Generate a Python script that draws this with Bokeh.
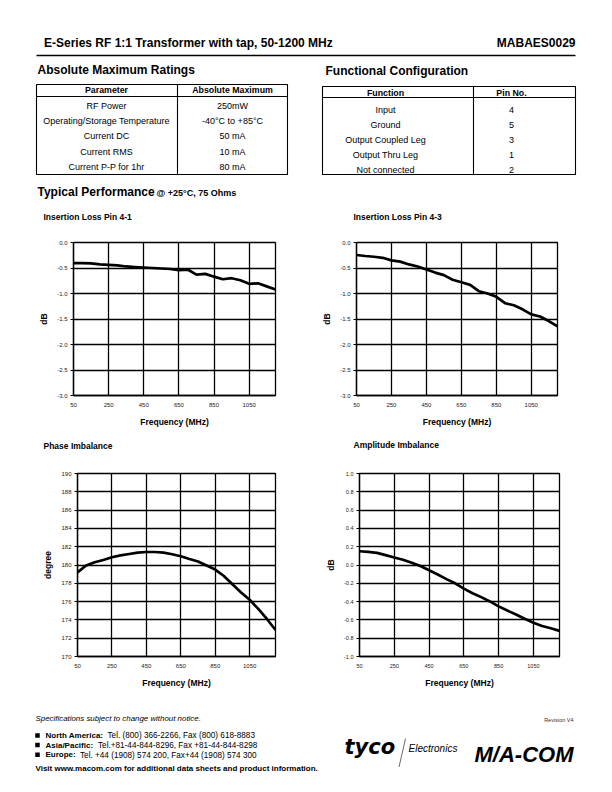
from bokeh.plotting import figure
from bokeh.layouts import column, row
from bokeh.models import Range1d, FixedTicker, NumeralTickFormatter
from bokeh.core.properties import value
from bokeh.embed import file_html
from bokeh.resources import INLINE

FONT = "Liberation Sans"

# ---------------- data ----------------
freq = [50, 100, 150, 200, 250, 300, 350, 400, 450, 500, 550, 600,
        650, 700, 750, 800, 850, 900, 950, 1000, 1050, 1100, 1150, 1200]
il_41 = [-0.405, -0.405, -0.41, -0.43, -0.44, -0.45, -0.47, -0.48, -0.49, -0.50, -0.51, -0.52,
         -0.54, -0.53, -0.63, -0.615, -0.67, -0.72, -0.70, -0.74, -0.81, -0.80, -0.86, -0.92]
il_43 = [-0.245, -0.265, -0.28, -0.30, -0.35, -0.375, -0.43, -0.47, -0.53, -0.59, -0.64, -0.73,
         -0.78, -0.83, -0.955, -1.0, -1.065, -1.19, -1.23, -1.31, -1.41, -1.45, -1.54, -1.645]
phase = [179.2, 179.95, 180.3, 180.55, 180.85, 181.05, 181.2, 181.35, 181.42, 181.42, 181.35, 181.17,
         180.95, 180.65, 180.38, 179.95, 179.5, 178.8, 177.9, 177.0, 176.2, 175.2, 174.1, 172.9]
amp = [0.15, 0.143, 0.133, 0.108, 0.082, 0.057, 0.025, -0.01, -0.057, -0.104, -0.154, -0.20,
       -0.258, -0.308, -0.351, -0.398, -0.452, -0.498, -0.541, -0.588, -0.631, -0.667, -0.692, -0.72]

x_ticks = [50, 250, 450, 650, 850, 1050]
il_ticks = [-3.0, -2.5, -2.0, -1.5, -1.0, -0.5, 0.0]
phase_ticks = [170, 172, 174, 176, 178, 180, 182, 184, 186, 188, 190]
amp_ticks = [-1.0, -0.8, -0.6, -0.4, -0.2, 0.0, 0.2, 0.4, 0.6, 0.8, 1.0]

chart_titles = ["Insertion Loss Pin 4-1", "Insertion Loss Pin 4-3", "Phase Imbalance", "Amplitude Imbalance"]

amr_params = ["RF Power", "Operating/Storage Temperature", "Current DC", "Current RMS", "Current P-P for 1hr"]
amr_values = ["250mW", "-40\u00b0C to +85\u00b0C", "50 mA", "10 mA", "80 mA"]
fc_functions = ["Input", "Ground", "Output Coupled Leg", "Output Thru Leg", "Not connected"]
fc_pins = ["4", "5", "3", "1", "2"]


def page_fig(y0, y1):
    p = figure(width=612, height=y1 - y0, x_range=Range1d(0, 612), y_range=Range1d(y1, y0),
               output_backend="svg", toolbar_location=None, min_border=0, title=None,
               x_axis_location=None, y_axis_location=None)
    p.grid.visible = False
    p.outline_line_color = None
    return p


def txt(p, x, y, s, size, style="normal", align="left", font=FONT, color="black"):
    # y is the vertical centre of the capital letters, in page pixels
    p.text(x=[x], y=[y], text=[s], text_font=value(font), text_font_size=size,
           text_font_style=style, text_align=align, text_baseline="middle", text_color=color)


# ---------------- header (page y 0..228) ----------------
hdr = page_fig(0, 228)
txt(hdr, 43.5, 42, "E-Series RF 1:1 Transformer with tap, 50-1200 MHz", "12px", "bold")
txt(hdr, 575, 42, "MABAES0029", "12px", "bold", "right")
hdr.segment(x0=[36], y0=[55], x1=[575], y1=[55], line_color="black", line_width=1.3)
txt(hdr, 37, 69.5, "Absolute Maximum Ratings", "12px", "bold")
txt(hdr, 325, 70, "Functional Configuration", "12px", "bold")

# table 1
hdr.quad(left=[36], right=[287], top=[84], bottom=[174], fill_color=None, line_color="black", line_width=1.1)
hdr.segment(x0=[36, 177], y0=[96, 84], x1=[287, 177], y1=[96, 174], line_color="black", line_width=1.1)
txt(hdr, 106, 89.7, "Parameter", "8.8px", "bold", "center")
txt(hdr, 232, 89.7, "Absolute Maximum", "8.8px", "bold", "center")
for i, (a, b) in enumerate(zip(amr_params, amr_values)):
    yc = 105 + i * 15.4
    txt(hdr, 106, yc, a, "9px", "normal", "center")
    txt(hdr, 232, yc, b, "9px", "normal", "center")

# table 2
hdr.quad(left=[322], right=[575], top=[86], bottom=[174], fill_color=None, line_color="black", line_width=1.1)
hdr.segment(x0=[322, 473], y0=[97, 86], x1=[575, 473], y1=[97, 174], line_color="black", line_width=1.1)
txt(hdr, 385, 92, "Function", "8.8px", "bold", "center")
txt(hdr, 511, 92, "Pin No.", "8.8px", "bold", "center")
for i, (a, b) in enumerate(zip(fc_functions, fc_pins)):
    yc = 109.2 + i * 15.1
    txt(hdr, 385, yc, a, "9px", "normal", "center")
    txt(hdr, 511, yc, b, "9px", "normal", "center")

txt(hdr, 37, 191.7, "Typical Performance", "12px", "bold")
txt(hdr, 156, 192.8, "@ +25\u00b0C, 75 Ohms", "9px", "bold")

# titles of the first chart row
txt(hdr, 43, 216.3, chart_titles[0], "8.5px", "bold")
txt(hdr, 353, 216.5, chart_titles[1], "8.5px", "bold")

# strip with the titles of the second chart row (page y 432..458)
mid = page_fig(432, 458)
txt(mid, 43, 445, chart_titles[2], "8.5px", "bold")
txt(mid, 353, 444.5, chart_titles[3], "8.5px", "bold")


# ---------------- charts ----------------
def chart(ys, yticks, fmt, ylabel, height, left, fw, top, fh, tick_size="6px"):
    p = figure(width=306, height=height, x_range=Range1d(50, 1200),
               y_range=Range1d(yticks[0], yticks[-1]), title=None,
               output_backend="svg", toolbar_location=None,
               min_border_left=left, min_border_right=306 - left - fw,
               min_border_top=top, min_border_bottom=height - top - fh)

    p.line(freq, ys, line_color="black", line_width=2.7)

    p.xaxis.ticker = FixedTicker(ticks=x_ticks)
    p.yaxis.ticker = FixedTicker(ticks=yticks)
    p.xgrid.ticker = FixedTicker(ticks=x_ticks)
    p.ygrid.ticker = FixedTicker(ticks=yticks)
    p.yaxis.formatter = NumeralTickFormatter(format=fmt)
    p.grid.grid_line_color = "black"
    p.grid.grid_line_width = 1.3
    p.grid.grid_line_alpha = 1.0
    p.outline_line_color = "black"
    p.outline_line_width = 1.3
    p.outline_line_alpha = 1.0

    for ax in (p.xaxis, p.yaxis):
        ax.axis_line_color = "black"
        ax.axis_line_width = 1.3
        ax.major_label_text_font = FONT
        ax.major_label_text_font_size = tick_size
        ax.major_label_text_color = "#222222"
        ax.axis_label_text_font = FONT
        ax.axis_label_text_font_size = "8.5px"
        ax.axis_label_text_font_style = "bold"
        ax.axis_label_text_color = "black"
        ax.minor_tick_line_color = None
        ax.major_tick_in = 0
    p.xaxis.major_tick_out = 0
    p.xaxis.major_label_standoff = 7
    p.xaxis.axis_label = "Frequency (MHz)"
    p.xaxis.axis_label_standoff = 7
    p.yaxis.major_tick_out = 3
    p.yaxis.major_tick_line_color = "black"
    p.yaxis.major_label_standoff = 3
    p.yaxis.axis_label = ylabel
    p.yaxis.axis_label_standoff = 5
    return p


# row 1: page y 228..432 ; row 2: page y 458..690
c1 = chart(il_41, il_ticks, "0.0", "dB", 204, 73, 202, 14, 153)
c2 = chart(il_43, il_ticks, "0.0", "dB", 204, 50, 201, 14, 154)
c3 = chart(phase, phase_ticks, "0", "degree", 232, 77, 198, 15, 185)
c4 = chart(amp, amp_ticks, "0.0", "dB", 232, 53, 200, 14, 186, "5.5px")

# ---------------- footer (page y 690..790) ----------------
ftr = page_fig(690, 790)
txt(ftr, 35, 717.7, "Specifications subject to change without notice.", "7.9px", "italic")
txt(ftr, 573, 719, "Revision V4", "5.5px", "normal", "right", color="#333333")
ftr.rect(x=[37, 37, 37], y=[735, 744.5, 754.3], width=4.5, height=4.5, fill_color="black", line_color=None)
txt(ftr, 45, 735, "North America:", "8px", "bold")
txt(ftr, 107, 735.3, "Tel. (800) 366-2266,  Fax (800) 618-8883", "8.2px")
txt(ftr, 45, 744.5, "Asia/Pacific:", "8px", "bold")
txt(ftr, 97.5, 744.8, "Tel.+81-44-844-8296,  Fax +81-44-844-8298", "8.2px")
txt(ftr, 45, 754.3, "Europe:", "8px", "bold")
txt(ftr, 79.5, 754.6, "Tel. +44 (1908) 574 200,  Fax+44 (1908) 574 300", "8.2px")
txt(ftr, 35, 768.3, "Visit www.macom.com for additional data sheets and product information.", "8px", "bold")
txt(ftr, 344, 746, "tyco", "21px", "bold italic", font="DejaVu Sans")
ftr.segment(x0=[405], y0=[738], x1=[398.5], y1=[766.5], line_color="#444444", line_width=0.8)
txt(ftr, 408, 748.3, "Electronics", "10px", "italic")
txt(ftr, 474, 754, "M/A-COM", "22px", "bold italic")

page = column(hdr, row(c1, c2, spacing=0), mid, row(c3, c4, spacing=0), ftr, spacing=0)
open("out.html", "w").write(file_html(page, INLINE))
